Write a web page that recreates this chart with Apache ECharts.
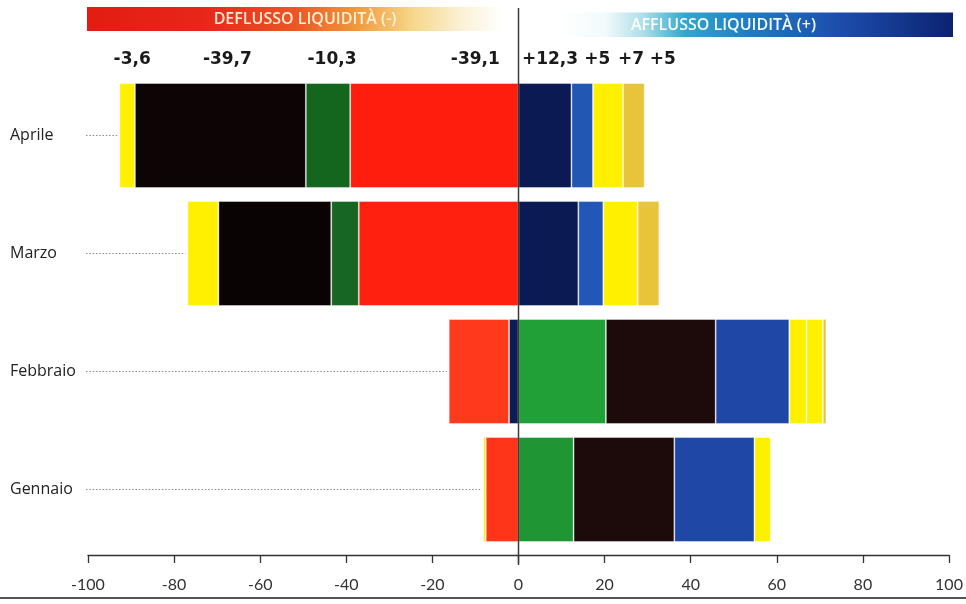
<!DOCTYPE html>
<html>
<head>
<meta charset="utf-8">
<script src="https://cdn.jsdelivr.net/npm/echarts@6/dist/echarts.min.js"></script>
<style>
  html, body { margin: 0; padding: 0; background: #ffffff; }
  #chart { width: 966px; height: 604px; }
</style>
</head>
<body>
<div id="chart"></div>
<script>
// Months, top row first
const months = ['Aprile', 'Marzo', 'Febbraio', 'Gennaio'];

// Net flows per fund category (billions), one array per coloured band
const navyVals    = [12.3, 13.9, -2.2, 0];
const redVals     = [-39.1, -37.1, -14.0, -7.6];
const greenVals   = [-10.3, -6.4, 20.3, 12.8];
const blackVals   = [-39.7, -26.2, 25.5, 23.4];
const blueVals    = [5, 5.8, 17.1, 18.6];
const yellowAVals = [-3.6, -7.2, 4.0, -0.6];
const yellowBVals = [7, 8.0, 3.8, 3.8];
const goldVals    = [5, 5.0, 0.8, 0];

// Value axis ticks
const xTicks = [-100, -80, -60, -40, -20, 0, 20, 40, 60, 80, 100];

// Header captions
const outflowTitle = 'DEFLUSSO LIQUIDITÀ (-)';
const inflowTitle = 'AFFLUSSO LIQUIDITÀ (+)';

// Band colours per row (Aprile, Marzo, Febbraio, Gennaio)
const bands = [
  { name: 'Blu scuro', values: navyVals,    colors: ['#0b1a52', '#0b1a52', '#0d1c55', '#0d1c55'], shift: 5 },
  { name: 'Rosso',     values: redVals,     colors: ['#ff1e0e', '#ff200f', '#ff3a1c', '#ff3519'], shift: 41 },
  { name: 'Verde',     values: greenVals,   colors: ['#14661f', '#186623', '#22a038', '#1f9633'], shift: 4 },
  { name: 'Nero',      values: blackVals,   colors: ['#0c0405', '#0a0304', '#1d0a0b', '#1d0a0b'], shift: 7 },
  { name: 'Blu',       values: blueVals,    colors: ['#2257b4', '#2257b8', '#1e47a6', '#1e47a6'], shift: 15 },
  { name: 'Giallo A',  values: yellowAVals, colors: ['#fff000', '#fff000', '#fff000', '#fff000'], shift: 5 },
  { name: 'Giallo B',  values: yellowBVals, colors: ['#fff000', '#fff000', '#fff000', '#fff000'], shift: 23 },
  { name: 'Oro',       values: goldVals,    colors: ['#e8c43a', '#e8c43a', '#e8c43a', '#e8c43a'], shift: 29 }
];

const GRID_LEFT = 88;
const GRID_RIGHT = 17;
const GRID_TOP = 76.5;
const GRID_HEIGHT = 472;

function fmtFlow(v) {
  const s = String(Math.abs(v)).replace('.', ',');
  return (v < 0 ? '-' : '+') + s;
}

// Left end of each row: sum of its negative bands
const leftEdges = months.map((m, i) =>
  bands.reduce((acc, b) => acc + (b.values[i] < 0 ? b.values[i] : 0), 0));

// Where each month label ends, so leaders start just after it
const measureCtx = document.createElement('canvas').getContext('2d');
measureCtx.font = '16px "Open Sans"';
const labelEnds = months.map(m => 10 + measureCtx.measureText(m).width);

const barSeries = bands.map(b => ({
  name: b.name,
  type: 'bar',
  stack: 'flussi',
  barWidth: 105,
  itemStyle: { borderColor: 'rgba(255,255,255,0.55)', borderWidth: 0.8 },
  data: b.values.map((v, i) => ({
    value: v === 0 ? '-' : v,
    itemStyle: { color: b.colors[i] },
    label: i === 0 ? {
      show: true,
      position: 'top',
      distance: 15,
      offset: [b.shift, 0],
      formatter: p => fmtFlow(p.value),
      fontFamily: 'DejaVu Sans',
      fontWeight: 'bold',
      fontSize: 17,
      color: '#1a1a1a'
    } : { show: false }
  }))
}));

const leaderSeries = {
  type: 'custom',
  name: 'guide',
  silent: true,
  z: 1,
  encode: { x: 0, y: 1 },
  data: months.map((m, i) => [leftEdges[i], i]),
  renderItem: (params, api) => {
    const idx = params.dataIndex;
    const end = api.coord([api.value(0), api.value(1)]);
    const start = Math.max(labelEnds[idx] + 5, 86);
    return {
      type: 'line',
      shape: { x1: start, y1: end[1], x2: end[0] - 2, y2: end[1] },
      style: { stroke: '#8a8a8a', lineWidth: 1, lineDash: [1.5, 1.8] }
    };
  }
};

const chart = echarts.init(document.getElementById('chart'), null, { renderer: 'canvas' });

chart.setOption({
  animation: false,
  backgroundColor: '#ffffff',
  grid: { left: GRID_LEFT, right: GRID_RIGHT, top: GRID_TOP, height: GRID_HEIGHT, containLabel: false },
  xAxis: {
    type: 'value',
    min: xTicks[0],
    max: xTicks[xTicks.length - 1],
    interval: xTicks[1] - xTicks[0],
    position: 'bottom',
    offset: 6.5,
    axisLine: { show: true, lineStyle: { color: '#333', width: 1.3 } },
    axisTick: { show: true, length: 8, lineStyle: { color: '#333', width: 1.3 } },
    splitLine: { show: false },
    axisLabel: { margin: 22, fontSize: 16, color: '#333', fontFamily: 'Lato' }
  },
  yAxis: {
    type: 'category',
    data: months,
    inverse: true,
    axisLine: { show: false },
    axisTick: { show: false },
    axisLabel: { align: 'left', margin: GRID_LEFT - 10, fontSize: 16, color: '#222', fontFamily: 'Open Sans' }
  },
  series: [leaderSeries].concat(barSeries)
});

// Decorations placed from the axis scale
const x0 = chart.convertToPixel({ xAxisIndex: 0 }, 0);
const xMin = chart.convertToPixel({ xAxisIndex: 0 }, xTicks[0]);
const xMax = chart.convertToPixel({ xAxisIndex: 0 }, xTicks[xTicks.length - 1]);

chart.setOption({
  graphic: [
    {
      type: 'rect', z: 0,
      shape: { x: xMin - 1, y: 7, width: x0 - xMin - 14, height: 24 },
      style: {
        fill: new echarts.graphic.LinearGradient(0, 0, 1, 0, [
          { offset: 0, color: '#e41c12' },
          { offset: 0.28, color: '#e8261a' },
          { offset: 0.5, color: '#ee5522' },
          { offset: 0.65, color: '#f29a3c' },
          { offset: 0.78, color: '#f6d688' },
          { offset: 0.9, color: '#fbf1d6' },
          { offset: 1, color: '#ffffff' }
        ])
      }
    },
    {
      type: 'text', z: 2,
      x: xMin + 217, y: 19.5,
      style: {
        text: outflowTitle, fill: 'rgba(255,246,225,0.95)',
        font: '600 16px "Open Sans"', textAlign: 'center', textVerticalAlign: 'middle'
      }
    },
    {
      type: 'rect', z: 0,
      shape: { x: x0 + 40, y: 12.5, width: xMax - x0 - 36, height: 24.5 },
      style: {
        fill: new echarts.graphic.LinearGradient(0, 0, 1, 0, [
          { offset: 0, color: '#ffffff' },
          { offset: 0.12, color: '#f2fafb' },
          { offset: 0.22, color: '#a8dce8' },
          { offset: 0.32, color: '#34a6cc' },
          { offset: 0.48, color: '#1f7dc2' },
          { offset: 0.7, color: '#1d4fae' },
          { offset: 1, color: '#0c2270' }
        ])
      }
    },
    {
      type: 'text', z: 2,
      x: x0 + 205, y: 25,
      style: {
        text: inflowTitle, fill: 'rgba(255,255,255,0.95)',
        font: '600 16px "Open Sans"', textAlign: 'center', textVerticalAlign: 'middle'
      }
    },
    {
      type: 'line', z: 5,
      shape: { x1: x0, y1: 8, x2: x0, y2: 565 },
      style: { stroke: '#3a3a3a', lineWidth: 1.5 }
    },
    {
      type: 'line', z: 0,
      shape: { x1: 0, y1: 598, x2: 966, y2: 598 },
      style: { stroke: '#555', lineWidth: 2 }
    }
  ]
});
</script>
</body>
</html>
